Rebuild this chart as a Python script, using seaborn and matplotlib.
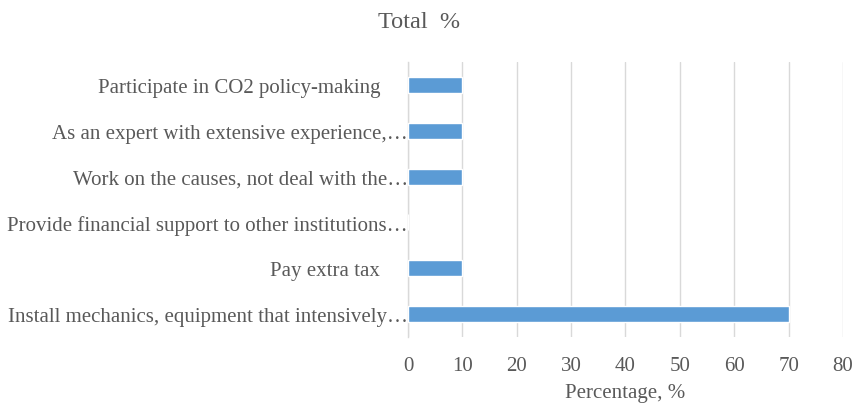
import matplotlib
matplotlib.use("Agg")
import matplotlib.pyplot as plt
import seaborn as sns
import pandas as pd

categories = [
    "Participate in CO2 policy-making",
    "As an expert with extensive experience,\u2026",
    "Work on the causes, not deal with the\u2026",
    "Provide financial support to other institutions\u2026",
    "Pay extra tax",
    "Install mechanics, equipment that intensively\u2026",
]
values = [10, 10, 10, 0, 10, 70]
x_ticks = [0, 10, 20, 30, 40, 50, 60, 70, 80]

df = pd.DataFrame({"category": categories, "percent": values})

sns.set_theme(style="white")
plt.rcParams["font.family"] = ["Liberation Serif", "DejaVu Serif"]
text_color = "#595959"

fig = plt.figure(figsize=(8.56, 4.06), dpi=100)
ax = fig.add_axes([0.4766, 0.1675, 0.5082, 0.6775])

sns.barplot(data=df, x="percent", y="category", orient="h",
            color="#5B9BD5", saturation=1, width=0.35, ax=ax, zorder=3)

ax.set_xlim(0, 80)
ax.set_xticks(x_ticks)
ax.set_xticklabels([str(t) for t in x_ticks])
ax.grid(axis="x", color="#D9D9D9", linewidth=1, zorder=0)
ax.grid(axis="y", visible=False)

for side in ["top", "right", "bottom"]:
    ax.spines[side].set_visible(False)
ax.spines["left"].set_color("#D9D9D9")
ax.spines["left"].set_linewidth(1)

ax.tick_params(axis="both", length=0, labelsize=15, colors=text_color)
ax.tick_params(axis="x", pad=14)
ax.tick_params(axis="y", pad=0)
for i, lab in enumerate(categories):
    if not lab.endswith("\u2026"):
        ax.yaxis.get_major_ticks()[i].set_pad(20)

ax.set_ylabel("")
ax.set_xlabel("Percentage, %", fontsize=15, color=text_color, labelpad=5.5)

fig.text(0.49, 0.945, "Total  %", ha="center", va="center",
         fontsize=17.5, color=text_color)

fig.savefig("out.png", dpi=100)
